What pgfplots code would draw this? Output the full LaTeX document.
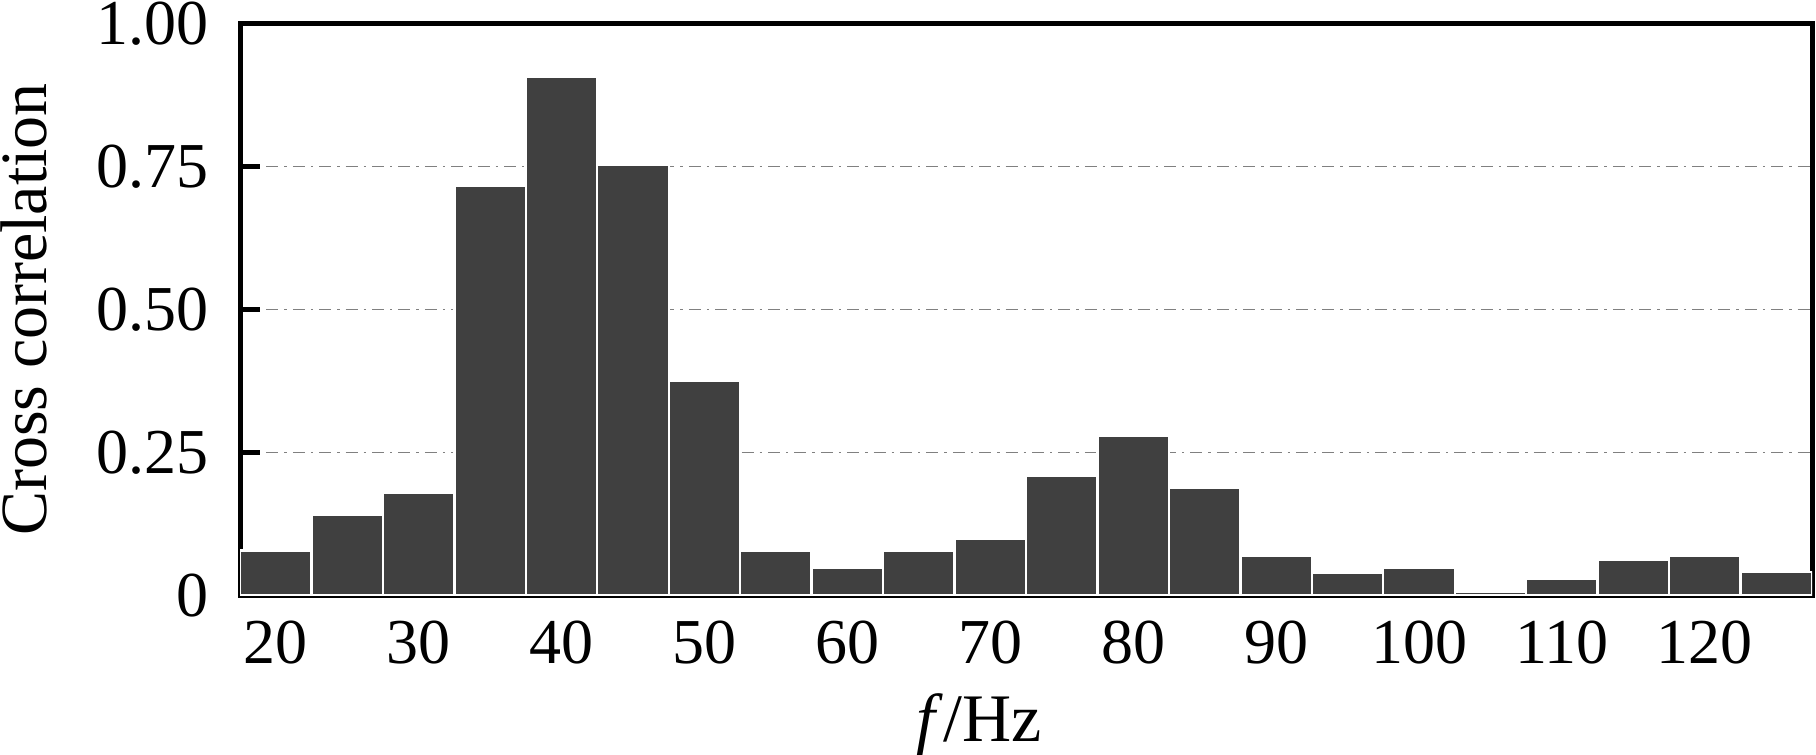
\documentclass[border=0pt]{standalone}
\usepackage{fontspec}
\setmainfont{Liberation Serif}
\usepackage{pgfplots}
\pgfplotsset{compat=1.18}
\begin{document}
\begin{tikzpicture}
\begin{axis}[
  name=ax,
  scale only axis,
  width=393pt, height=143.1pt,
  xmin=17.5, xmax=127.5,
  ymin=0, ymax=1,
  font=\fontsize{16}{19}\selectfont,
  axis line style={line width=1.25pt, black},
  ybar, bar width=5,
  xtick={20,30,40,50,60,70,80,90,100,110,120},
  xticklabels={20,30,40,50,60,70,80,90,100,110,120},
  ytick={0,0.25,0.5,0.75,1},
  yticklabels={0,0.25,0.50,0.75,1.00},
  ytick pos=left,
  tick align=inside,
  major tick length=5pt,
  xtick style={draw=none},
  ytick style={line width=1.1pt, black},
  xticklabel style={inner sep=0pt, anchor=north, yshift=-6.25pt},
  yticklabel style={inner sep=0pt, anchor=east, xshift=-7.75pt},
  ymajorgrids,
  grid style={gray, line width=0.4pt, dash pattern=on 3pt off 1.5pt on 0.6pt off 1.5pt},
  xlabel={\textit{f}/Hz},
  xlabel style={at={(axis description cs:0.47,0)}, anchor=base, inner sep=0pt, yshift=-36.5pt, font=\fontsize{17}{20}\selectfont},
]
\addplot[fill=black!75, draw=white, line width=0.6pt] coordinates {
(20,0.079) (25,0.141) (30,0.180) (35,0.716) (40,0.906) (45,0.752)
(50,0.376) (55,0.078) (60,0.049) (65,0.078) (70,0.099) (75,0.209)
(80,0.279) (85,0.188) (90,0.070) (95,0.040) (100,0.049) (105,0.007)
(110,0.030) (115,0.063) (120,0.070) (125,0.041)
};
\end{axis}
\node[rotate=90, anchor=south, inner sep=0pt, font=\fontsize{16.5}{19}\selectfont] at ([xshift=-48pt]ax.west) {Cross correlation};
\pgfresetboundingbox
\path[use as bounding box] ([xshift=-60pt,yshift=-39.6pt]ax.south west) rectangle ([xshift=1pt,yshift=5.8pt]ax.north east);
\end{tikzpicture}
\end{document}
